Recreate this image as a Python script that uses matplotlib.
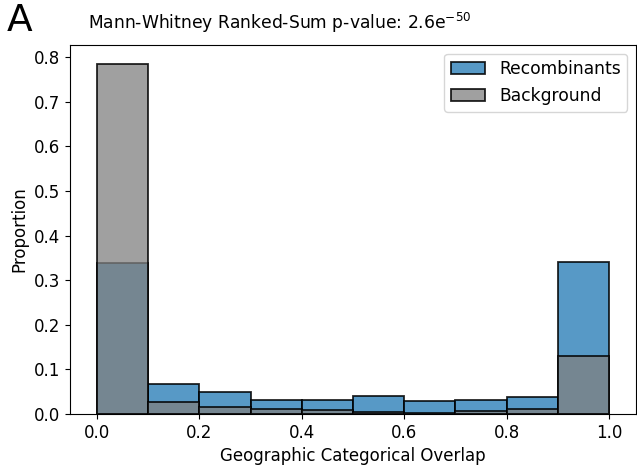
import numpy as np
import matplotlib.pyplot as plt
from matplotlib.colors import to_rgba

bin_edges = [0.0, 0.1, 0.2, 0.3, 0.4, 0.5, 0.6, 0.7, 0.8, 0.9, 1.0]
recombinants = [0.339, 0.067, 0.049, 0.031, 0.032, 0.041, 0.030, 0.031, 0.039, 0.341]
background = [0.785, 0.027, 0.016, 0.011, 0.008, 0.004, 0.002, 0.007, 0.012, 0.131]

fig = plt.figure(figsize=(6.37, 4.74), dpi=100)
ax = fig.add_axes([70 / 637, 1 - 414 / 474, 566 / 637, 369 / 474])

left = np.array(bin_edges[:-1])
width = np.diff(bin_edges)
ax.bar(left, recombinants, width=width, align='edge', color=to_rgba('#1f77b4', 0.75),
       edgecolor=to_rgba('black', 0.85), linewidth=1.3, label='Recombinants')
ax.bar(left, background, width=width, align='edge', color=to_rgba('gray', 0.75),
       edgecolor=to_rgba('black', 0.85), linewidth=1.3, label='Background')

ax.set_xlim(-0.0526, 1.0526)
ax.set_ylim(0, 0.827)
ax.tick_params(labelsize=12)
ax.set_xlabel("Geographic Categorical Overlap", fontsize=12)
ax.set_ylabel("Proportion", fontsize=12)
ax.legend(fontsize=12.3, loc='upper right')
fig.text(88 / 637, 1 - 23 / 474, "Mann-Whitney Ranked-Sum p-value: 2.6e$^{-50}$",
         fontsize=12.3, va='center', ha='left')
fig.text(7 / 637, 1 - 21 / 474, "A", fontsize=27, va='center', ha='left')

fig.savefig("out.png", dpi=100)
